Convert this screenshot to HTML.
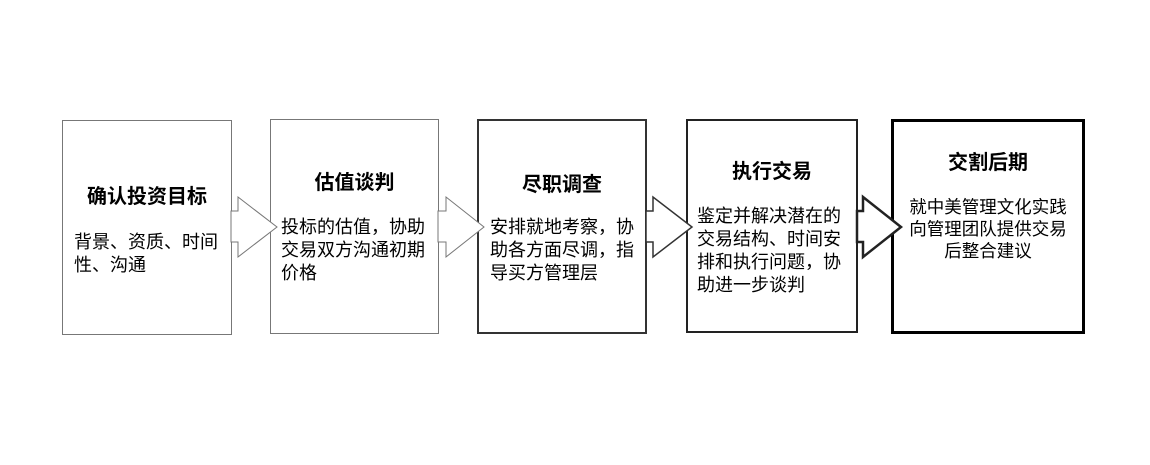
<!DOCTYPE html>
<html><head><meta charset="utf-8"><style>
body{margin:0;width:1150px;height:465px;background:#fff;position:relative;overflow:hidden;font-family:"Liberation Sans","Noto Sans CJK SC",sans-serif;color:#000}
.b{position:absolute;box-sizing:border-box;background:#fff}
.t{position:absolute;font-weight:bold;font-size:20px;white-space:nowrap;line-height:22px}
.p{position:absolute;font-size:18px;line-height:23px;white-space:nowrap}
svg{position:absolute;left:0;top:0}
</style></head><body>
<div class="b" style="left:62px;top:120px;width:170px;height:215px;border:1px solid #777"></div>
<div class="b" style="left:270px;top:119px;width:169px;height:215px;border:1px solid #777"></div>
<div class="b" style="left:477px;top:119px;width:170px;height:215px;border:2px solid #333"></div>
<div class="b" style="left:686px;top:119px;width:172px;height:214px;border:2px solid #222"></div>
<div class="b" style="left:891px;top:119px;width:194px;height:215px;border:3px solid #000"></div>
<svg width="1150" height="465">
<g fill="#fff" stroke="#777" stroke-width="1">
<polygon points="231,211 238,211 238,197 277,227 238,257 238,242 231,242"/>
<polygon points="438,211 446,211 446,197 484,227 446,257 446,242 438,242"/>
</g>
<polygon points="646,211 653,211 653,197 692,227 653,257 653,242 646,242" fill="#fff" stroke="#333" stroke-width="1.5"/>
<polygon points="857,211 863,211 863,197 901,227 863,257 863,242 857,242" fill="#fff" stroke="#222" stroke-width="2.5"/>
</svg>
<div class="t" style="left:62px;width:170px;text-align:center;top:186px">确认投资目标</div>
<div class="p" style="left:74px;top:231px">背景、资质、时间<br>性、沟通</div>
<div class="t" style="left:270px;width:169px;text-align:center;top:172px">估值谈判</div>
<div class="p" style="left:281px;top:216px">投标的估值，协助<br>交易双方沟通初期<br>价格</div>
<div class="t" style="left:477px;width:170px;text-align:center;top:174px">尽职调查</div>
<div class="p" style="left:490px;top:216px">安排就地考察，协<br>助各方面尽调，指<br>导买方管理层</div>
<div class="t" style="left:686px;width:172px;text-align:center;top:161px">执行交易</div>
<div class="p" style="left:697px;top:205px">鉴定并解决潜在的<br>交易结构、时间安<br>排和执行问题，协<br>助进一步谈判</div>
<div class="t" style="left:891px;width:194px;text-align:center;top:152px">交割后期</div>
<div class="p" style="left:891px;width:194px;text-align:center;top:196px;font-size:17.5px;line-height:22px">就中美管理文化实践<br>向管理团队提供交易<br>后整合建议</div>
</body></html>
